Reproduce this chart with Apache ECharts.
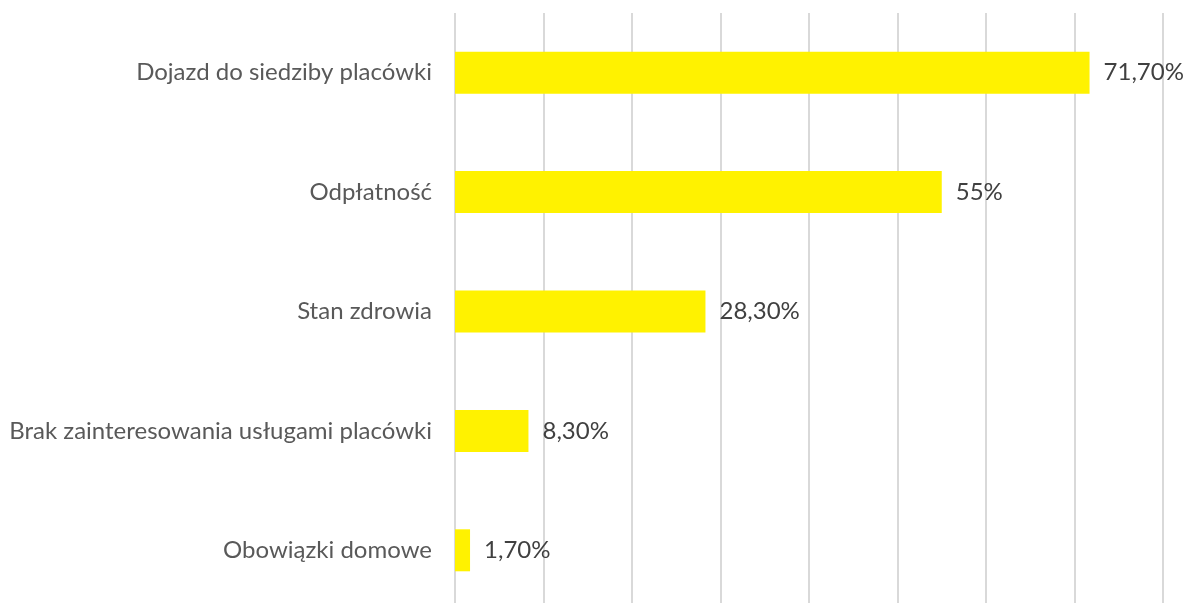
<!DOCTYPE html>
<html><head><meta charset="utf-8">
<script src="https://cdn.jsdelivr.net/npm/echarts@6/dist/echarts.min.js"></script>
<style>html,body{margin:0;padding:0;background:#fff;overflow:hidden}#c{width:1190px;height:610px}</style>
</head><body><div id="c"></div>
<script>
const categories = ['Dojazd do siedziby placówki','Odpłatność','Stan zdrowia','Brak zainteresowania usługami placówki','Obowiązki domowe'];
const values = [71.7, 55, 28.3, 8.3, 1.7];
const valueLabels = ['71,70%','55%','28,30%','8,30%','1,70%'];
const chart = echarts.init(document.getElementById('c'));
chart.setOption({
  animation: false,
  grid: {left: 455, right: 27, top: 13, bottom: 0, containLabel: false},
  xAxis: {type: 'value', min: 0, max: 80, interval: 10,
    axisLabel: {show: false}, axisLine: {show: false}, axisTick: {show: false},
    splitLine: {lineStyle: {color: '#d9d9d9', width: 2}}},
  yAxis: {type: 'category', data: categories, inverse: true,
    axisLine: {show: false}, axisTick: {show: false},
    axisLabel: {margin: 23, fontFamily: 'Lato', fontSize: 24, color: '#595959'}},
  series: [{type: 'bar', data: values, barWidth: 42,
    itemStyle: {color: '#FFF200'},
    label: {show: true, position: 'right', distance: 14, fontFamily: 'Lato', fontSize: 24, color: '#404040',
      formatter: p => valueLabels[p.dataIndex]}}]
});
</script></body></html>
